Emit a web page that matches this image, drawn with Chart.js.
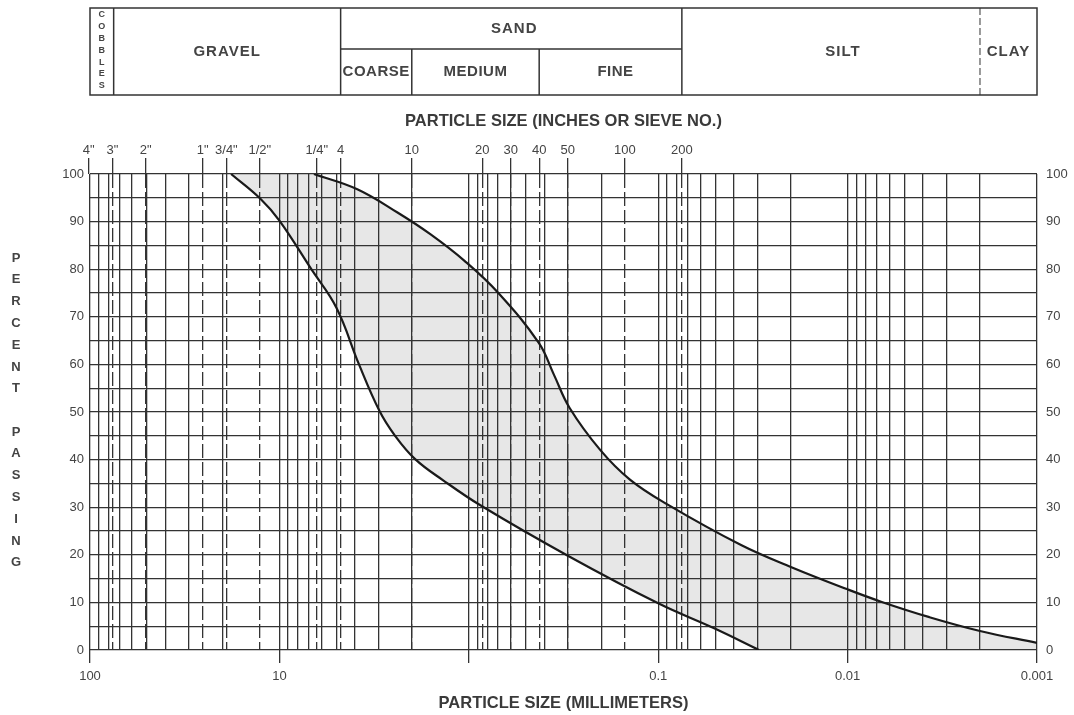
<!DOCTYPE html>
<html>
<head>
<meta charset="utf-8">
<title>Grain size distribution</title>
<script src="https://cdn.jsdelivr.net/npm/chart.js@4.4.1/dist/chart.umd.min.js"></script>
<style>
  html, body { margin: 0; padding: 0; background: #fff; }
  #wrap { position: relative; width: 1074px; height: 715px; }
</style>
</head>
<body>
<div id="wrap"><canvas id="gradChart" width="1074" height="715"></canvas></div>
<script>
// coarse limit of the band (particle size mm / percent passing)
const coarseSize = [18.0, 12.6, 10.0, 6.81, 5.0, 3.8, 2.96, 2.46, 1.92, 1.36, 0.869, 0.30, 0.10, 0.0503, 0.0294];
const coarsePass = [100, 94.8, 90.2, 80.1, 71.9, 60, 50.2, 45.1, 40.1, 35.6, 30.4, 19.8, 9.8, 4.5, 0];

// fine limit of the band
const fineSize = [6.57, 3.88, 2.38, 1.59, 1.05, 0.698, 0.427, 0.355, 0.294, 0.203, 0.141, 0.0895, 0.0363, 0.0198, 0.0101, 0.0066, 0.0037, 0.002, 0.001];
const finePass = [100, 96.8, 91.9, 87.3, 81.7, 75, 64.5, 57.8, 50.9, 42.1, 35.8, 30.6, 22, 17.4, 12.8, 10.1, 6.9, 4.0, 1.5];

// top axis: sieve openings
const sieveLabels = ['4"', '3"', '2"', '1"', '3/4"', '1/2"', '1/4"', '4', '10', '20', '30', '40', '50', '100', '200'];
const sieveSize = [101.6, 76.2, 50.8, 25.4, 19.05, 12.7, 6.35, 4.75, 2.0, 0.85, 0.6, 0.425, 0.3, 0.15, 0.075];

// bottom axis: millimetres
const mmTicks = [100, 10, 1, 0.1, 0.01, 0.001];
const mmLabels = ['100', '10', '', '0.1', '0.01', '0.001'];
const decades = [0.001, 0.01, 0.1, 1, 10];
const gridSteps = [1, 2, 3, 4, 5, 6, 7, 8, 9];

// soil classes on top
const soilNames = ['COBBLES', 'GRAVEL', 'SAND', 'SILT', 'CLAY'];
const soilBounds = [100, 75, 4.75, 0.075, 0.002, 0.001];
const sandNames = ['COARSE', 'MEDIUM', 'FINE'];
const sandBounds = [4.75, 2.0, 0.425, 0.075];

const gridValues = [];
decades.forEach(d => gridSteps.forEach(s => gridValues.push(parseFloat((d * s).toPrecision(6)))));
gridValues.push(100);

const lineCol = '#333';
const textCol = '#444';
const numFont = { family: 'Liberation Sans', size: 13 };
const titleFont = { family: 'Liberation Sans', size: 16.5, weight: 'bold' };

// grey band between the two curves, painted under the grid
const bandFill = {
  id: 'bandFill',
  beforeDraw(chart) {
    const ctx = chart.ctx;
    const x = chart.scales.x, y = chart.scales.y;
    ctx.save();
    ctx.beginPath();
    [1, 0].forEach(i => {
      const line = chart.getDatasetMeta(i).dataset;
      line.updateControlPoints(chart.chartArea, 'x');
      line.path(ctx);
      ctx.lineTo(x.getPixelForValue(0.001), y.getPixelForValue(0));
      ctx.lineTo(x.getPixelForValue(100), y.getPixelForValue(0));
      ctx.lineTo(x.getPixelForValue(100), y.getPixelForValue(100));
      ctx.closePath();
    });
    ctx.fillStyle = '#e7e7e7';
    ctx.fill('evenodd');
    ctx.restore();
  }
};

// classification table and the stacked side label
const soilTable = {
  id: 'soilTable',
  afterDraw(chart) {
    const ctx = chart.ctx;
    const x = chart.scales.x;
    const px = v => x.getPixelForValue(v);
    const top = 8, mid = 49, bottom = 95;
    ctx.save();
    ctx.strokeStyle = '#333';
    ctx.lineWidth = 1.5;
    ctx.strokeRect(px(100), top, px(0.001) - px(100), bottom - top);

    function seg(x1, y1, x2, y2, dash) {
      ctx.setLineDash(dash || []);
      ctx.beginPath();
      ctx.moveTo(x1, y1);
      ctx.lineTo(x2, y2);
      ctx.stroke();
    }
    soilBounds.slice(1, -1).forEach(b => {
      if (b === 0.002) {
        ctx.lineWidth = 1;
        seg(px(b), top, px(b), bottom, [7, 3]);
        ctx.lineWidth = 1.5;
      } else {
        seg(px(b), top, px(b), bottom);
      }
    });
    seg(px(sandBounds[0]), mid, px(sandBounds[3]), mid);
    seg(px(sandBounds[1]), mid, px(sandBounds[1]), bottom);
    seg(px(sandBounds[2]), mid, px(sandBounds[2]), bottom);
    ctx.setLineDash([]);

    ctx.fillStyle = textCol;
    ctx.textAlign = 'center';
    ctx.textBaseline = 'middle';
    ctx.font = 'bold 15px "Liberation Sans"';
    ctx.letterSpacing = '1px';
    soilNames.forEach((name, i) => {
      let cx = (px(soilBounds[i]) + px(soilBounds[i + 1])) / 2;
      if (name === 'COBBLES') {
        ctx.save();
        ctx.font = 'bold 9px "Liberation Sans"';
        ctx.letterSpacing = '0px';
        name.split('').forEach((ch, k) => ctx.fillText(ch, cx, 15 + k * 11.8));
        ctx.restore();
      } else if (name === 'SAND') {
        ctx.fillText(name, cx + 3, 29);
      } else {
        if (name === 'SILT') cx += 12;
        ctx.fillText(name, cx, 52);
      }
    });
    ctx.letterSpacing = '0.5px';
    sandNames.forEach((name, i) => {
      let cx = (px(sandBounds[i]) + px(sandBounds[i + 1])) / 2;
      if (name === 'FINE') cx += 5;
      ctx.fillText(name, cx, 72);
    });
    ctx.letterSpacing = '0px';

    ctx.font = 'bold 13px "Liberation Sans"';
    'PERCENT'.split('').forEach((ch, k) => ctx.fillText(ch, 16, 258 + k * 21.8));
    'PASSING'.split('').forEach((ch, k) => ctx.fillText(ch, 16, 432 + k * 21.8));
    ctx.restore();
  }
};

const curve = (size, pass) => size.map((s, i) => ({ x: s, y: pass[i] }));

new Chart(document.getElementById('gradChart'), {
  type: 'line',
  data: {
    datasets: [
      {
        label: 'Coarse limit',
        data: curve(coarseSize, coarsePass),
        borderColor: '#1a1a1a',
        borderWidth: 2.2,
        pointRadius: 0,
        tension: 0.4,
        fill: false
      },
      {
        label: 'Fine limit',
        data: curve(fineSize, finePass),
        borderColor: '#1a1a1a',
        borderWidth: 2.2,
        pointRadius: 0,
        tension: 0.4,
        fill: false
      }
    ]
  },
  options: {
    responsive: false,
    animation: false,
    layout: { padding: { top: 100 } },
    plugins: { legend: { display: false }, tooltip: { enabled: false } },
    scales: {
      x: {
        type: 'logarithmic',
        position: 'bottom',
        min: 0.001,
        max: 100,
        reverse: true,
        afterBuildTicks: s => { s.ticks = gridValues.map(v => ({ value: v })); },
        afterFit: s => { s.height = 65; },
        grid: {
          color: lineCol,
          lineWidth: 1.3,
          tickLength: 13,
          tickWidth: 1.3,
          tickColor: c => (c.tick && mmTicks.includes(c.tick.value)) ? lineCol : 'rgba(0,0,0,0)'
        },
        border: { display: false },
        ticks: {
          autoSkip: false,
          maxRotation: 0,
          padding: 6,
          color: textCol,
          font: numFont,
          callback: v => {
            const i = mmTicks.indexOf(v);
            return i < 0 ? '' : mmLabels[i];
          }
        },
        title: {
          display: true,
          text: 'PARTICLE SIZE (MILLIMETERS)',
          color: '#3a3a3a',
          font: titleFont,
          padding: { top: 0, bottom: 2 }
        }
      },
      x2: {
        type: 'logarithmic',
        position: 'top',
        min: 0.001,
        max: 100,
        reverse: true,
        afterBuildTicks: s => { s.ticks = sieveSize.map(v => ({ value: v })); },
        afterFit: s => { s.height = 74; },
        grid: {
          color: c => (c.tick && c.tick.value > 100) ? 'rgba(0,0,0,0)' : lineCol,
          lineWidth: 1.3,
          tickLength: 16,
          tickWidth: 1.3,
          tickColor: lineCol
        },
        border: { display: false, dash: [14, 4] },
        ticks: {
          autoSkip: false,
          maxRotation: 0,
          padding: 0,
          color: textCol,
          font: numFont,
          callback: (v, i) => sieveLabels[i]
        },
        title: {
          display: true,
          text: 'PARTICLE SIZE (INCHES OR SIEVE NO.)',
          color: '#3a3a3a',
          font: titleFont,
          padding: { top: 12, bottom: 0 }
        }
      },
      y: {
        position: 'left',
        min: 0,
        max: 100,
        afterFit: s => { s.width = 90; },
        grid: { color: lineCol, lineWidth: 1.3, drawTicks: false },
        border: { display: false },
        ticks: {
          stepSize: 5,
          padding: 6,
          color: textCol,
          font: numFont,
          callback: v => (v % 10 === 0 ? v : '')
        }
      },
      y2: {
        position: 'right',
        min: 0,
        max: 100,
        afterFit: s => { s.width = 37; },
        grid: { drawOnChartArea: false, drawTicks: false },
        border: { display: false },
        ticks: {
          stepSize: 5,
          padding: 9,
          color: textCol,
          font: numFont,
          callback: v => (v % 10 === 0 ? v : '')
        }
      }
    }
  },
  plugins: [bandFill, soilTable]
});
</script>
</body>
</html>
